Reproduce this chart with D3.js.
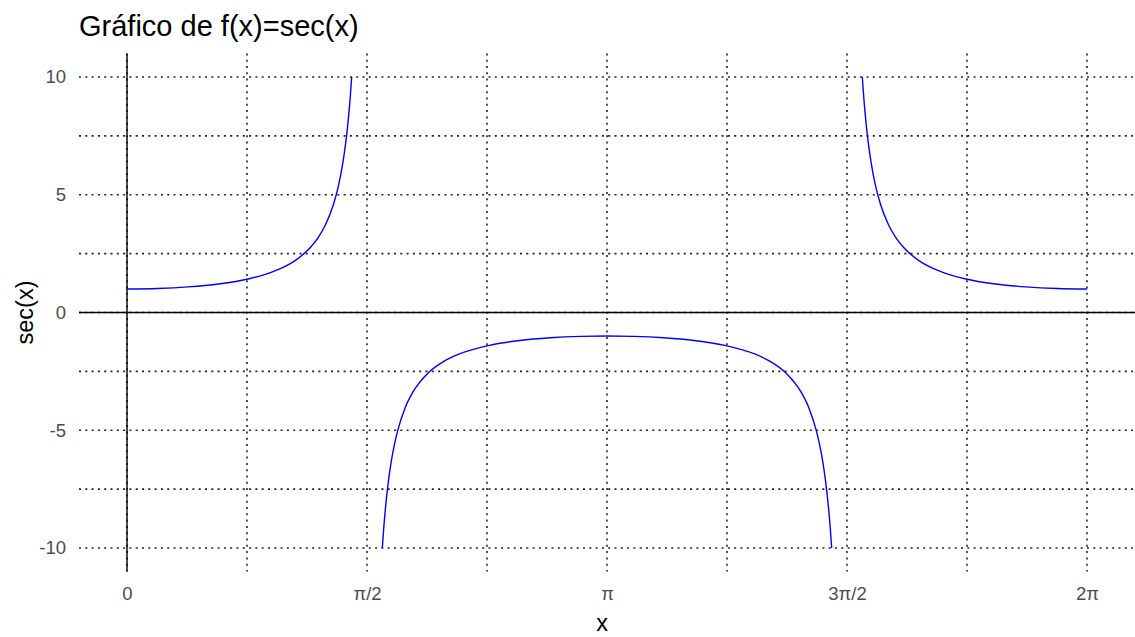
<!DOCTYPE html>
<html>
<head>
<meta charset="utf-8">
<script src="https://cdn.jsdelivr.net/npm/d3@7"></script>
<style>
  body { margin: 0; background: #fff; }
  text { font-family: "Liberation Sans", Arial, sans-serif; }
</style>
</head>
<body>
<div id="chart"></div>
<script>
var branch1X = [0, 0.2, 0.4, 0.6, 0.8, 0.9, 1.0, 1.1, 1.2, 1.25, 1.3, 1.35, 1.38, 1.40, 1.42, 1.44, 1.455, 1.46, 1.4706];
var branch1Y = [1, 1.020, 1.086, 1.212, 1.435, 1.609, 1.851, 2.205, 2.760, 3.171, 3.738, 4.566, 5.273, 5.884, 6.656, 7.668, 8.655, 9.044, 10];

var branch2X = [1.6710, 1.6808, 1.6908, 1.7108, 1.7308, 1.7508, 1.7708, 1.8208, 1.8708, 1.9708, 2.0708, 2.1708, 2.3708, 2.5708, 2.7708, 2.9708, 3.1416,
                3.3124, 3.5124, 3.7124, 3.9124, 4.1124, 4.2124, 4.3124, 4.4124, 4.4624, 4.5124, 4.5324, 4.5524, 4.5724, 4.5924, 4.6024, 4.6122];
var branch2Y = [-10, -9.109, -8.353, -7.166, -6.277, -5.586, -5.033, -4.042, -3.384, -2.568, -2.086, -1.771, -1.394, -1.188, -1.073, -1.015, -1,
                -1.015, -1.073, -1.188, -1.394, -1.771, -2.086, -2.568, -3.384, -4.042, -5.033, -5.586, -6.277, -7.166, -8.353, -9.109, -10];

var branch3X = [4.8126, 4.8232, 4.8282, 4.8432, 4.8632, 4.8832, 4.9032, 4.9332, 4.9832, 5.0332, 5.0832, 5.1832, 5.2832, 5.3832, 5.4832, 5.6832, 5.8832, 6.0832, 6.2832];
var branch3Y = [10, 9.044, 8.655, 7.668, 6.656, 5.884, 5.273, 4.566, 3.738, 3.171, 2.760, 2.205, 1.851, 1.609, 1.435, 1.212, 1.086, 1.020, 1];

var xTicks = [0, Math.PI / 2, Math.PI, 3 * Math.PI / 2, 2 * Math.PI];
var xTickLabels = ["0", "π/2", "π", "3π/2", "2π"];
var xMinor = [Math.PI / 4, 3 * Math.PI / 4, 5 * Math.PI / 4, 7 * Math.PI / 4];
var yTicks = [-10, -5, 0, 5, 10];
var yMinor = [-7.5, -2.5, 2.5, 7.5];

var width = 1135, height = 637;
var margin = { top: 53.4, right: 0, bottom: 65.4, left: 79 };

var svg = d3.select("#chart").append("svg")
    .attr("width", width)
    .attr("height", height);

var x = d3.scaleLinear()
    .domain([-0.05 * 2 * Math.PI, 1.05 * 2 * Math.PI])
    .range([margin.left, width - margin.right]);

var y = d3.scaleLinear()
    .domain([-11, 11])
    .range([height - margin.bottom, margin.top]);

var gridColor = "#222";
var dots = "2,4.3";

// grid lines (all dotted)
svg.append("g").selectAll("line")
    .data(xTicks.concat(xMinor))
    .join("line")
    .attr("x1", d => x(d)).attr("x2", d => x(d))
    .attr("y1", y.range()[1]).attr("y2", y.range()[0])
    .attr("stroke", gridColor)
    .attr("stroke-width", 1.6)
    .attr("stroke-dasharray", dots);

svg.append("g").selectAll("line")
    .data(yTicks.concat(yMinor))
    .join("line")
    .attr("x1", x.range()[0]).attr("x2", x.range()[1])
    .attr("y1", d => y(d)).attr("y2", d => y(d))
    .attr("stroke", gridColor)
    .attr("stroke-width", 1.6)
    .attr("stroke-dasharray", dots);

// reference axes at x = 0 and y = 0
svg.append("line")
    .attr("x1", x(0)).attr("x2", x(0))
    .attr("y1", y.range()[1]).attr("y2", y.range()[0])
    .attr("stroke", "#000").attr("stroke-width", 1.4);

svg.append("line")
    .attr("x1", x.range()[0]).attr("x2", x.range()[1])
    .attr("y1", y(0)).attr("y2", y(0))
    .attr("stroke", "#000").attr("stroke-width", 1.4);

// curve
var line = d3.line()
    .x(d => x(d[0]))
    .y(d => y(d[1]))
    .curve(d3.curveMonotoneX);

var branches = [
    d3.zip(branch1X, branch1Y),
    d3.zip(branch2X, branch2Y),
    d3.zip(branch3X, branch3Y)
];

svg.append("g").selectAll("path")
    .data(branches)
    .join("path")
    .attr("d", line)
    .attr("fill", "none")
    .attr("stroke", "#0000ff")
    .attr("stroke-width", 1.4);

// axes
var xAxis = svg.append("g")
    .attr("transform", `translate(0,${y.range()[0]})`)
    .call(d3.axisBottom(x)
        .tickValues(xTicks)
        .tickFormat((d, i) => xTickLabels[i])
        .tickSize(0)
        .tickPadding(15));

var yAxis = svg.append("g")
    .attr("transform", `translate(${x.range()[0]},0)`)
    .call(d3.axisLeft(y)
        .tickValues(yTicks)
        .tickFormat(d => d < 0 ? "-" + Math.abs(d) : d)
        .tickSize(0)
        .tickPadding(13));

[xAxis, yAxis].forEach(function (g) {
    g.select(".domain").remove();
    g.selectAll("text")
        .attr("fill", "#4d4d4d")
        .style("font-size", "18.5px")
        .style("font-family", "'Liberation Sans', Arial, sans-serif");
});

// titles
svg.append("text")
    .attr("x", 79)
    .attr("y", 36)
    .style("font-size", "29px")
    .attr("fill", "#000")
    .text("Gráfico de f(x)=sec(x)");

svg.append("text")
    .attr("x", 602)
    .attr("y", 631)
    .attr("text-anchor", "middle")
    .style("font-size", "23.5px")
    .text("x");

svg.append("text")
    .attr("transform", `translate(33,${y(0)})rotate(-90)`)
    .attr("text-anchor", "middle")
    .style("font-size", "23.5px")
    .text("sec(x)");
</script>
</body>
</html>
